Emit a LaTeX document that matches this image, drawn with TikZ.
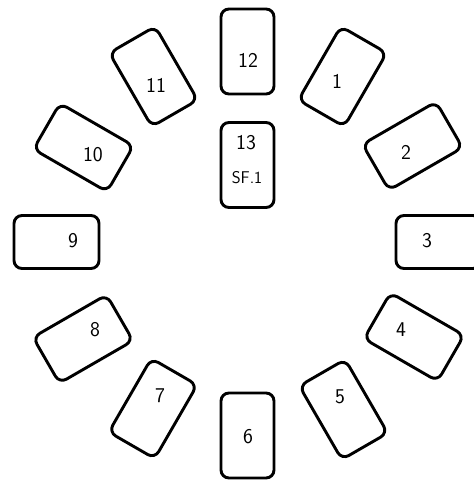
\documentclass[tikz,border=0pt]{standalone}
\begin{document}
\begin{tikzpicture}[x=1pt,y=-1pt,
  card/.style={draw=black, line width=2.9pt, rounded corners=8pt, rectangle,
    minimum width=53pt, minimum height=85pt, inner sep=0pt, fill=white},
  lbl/.style={font=\sffamily\fontsize{21}{23}\selectfont, inner sep=0pt},
  small/.style={font=\sffamily\fontsize{17}{19}\selectfont, inner sep=0pt}]
\useasboundingbox (0,0) rectangle (474,480);
\clip (0,0) rectangle (474,480);
% cards (portrait cards turned clockwise by their clock angle)
\node[card, rotate=0]    (c12) at (247.5,51.5) {};
\node[card, rotate=-30]  (c1)  at (342.5,76.5) {};
\node[card, rotate=-60]  (c2)  at (412.5,146) {};
\node[card, rotate=-90]  (c3)  at (438.5,242) {};
\node[card, rotate=-120] (c4)  at (414,337) {};
\node[card, rotate=-150] (c5)  at (343.5,409.5) {};
\node[card, rotate=180]  (c6)  at (247.5,435.5) {};
\node[card, rotate=150]  (c7)  at (153,408.5) {};
\node[card, rotate=120]  (c8)  at (83,339) {};
\node[card, rotate=90]   (c9)  at (56.5,242) {};
\node[card, rotate=60]   (c10) at (83.5,147.5) {};
\node[card, rotate=30]   (c11) at (153.5,76.5) {};
\node[card]              (c13) at (247.5,165) {};
% labels
\node[lbl] (l12) at (248,60) {12};
\node[lbl] (l1)  at (337,81) {1};
\node[lbl] (l2)  at (406,152) {2};
\node[lbl] (l3)  at (427,241) {3};
\node[lbl] (l4)  at (401,330) {4};
\node[lbl] (l5)  at (340,397) {5};
\node[lbl] (l6)  at (248,437) {6};
\node[lbl] (l7)  at (160,396) {7};
\node[lbl] (l8)  at (95,330) {8};
\node[lbl] (l9)  at (73,241) {9};
\node[lbl] (l10) at (93,155) {10};
\node[lbl] (l11) at (156,85) {11};
\node[lbl] (l13) at (246,143) {13};
\node[small] (lsf) at (247,178) {SF.1};
\end{tikzpicture}
\end{document}
